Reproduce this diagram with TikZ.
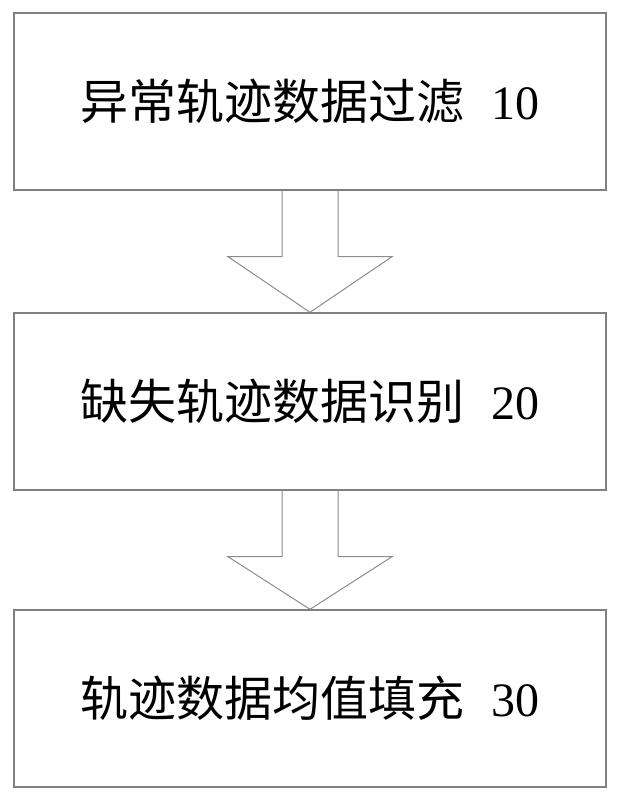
\documentclass[tikz,border=0pt]{standalone}
\usepackage{fontspec}
\setmainfont{Liberation Serif}
\newfontfamily\cjk{Noto Sans CJK SC}
\usetikzlibrary{calc}
\begin{document}
\begin{tikzpicture}[x=1pt,y=1pt,
  stepbox/.style={draw=black!50,line width=1.4pt,minimum width=592pt,minimum height=177pt,inner sep=0pt,font=\fontsize{48}{52}\selectfont},
  blockarrow/.style={draw=black!45,line width=1pt,line join=miter}]
\useasboundingbox (0,0) rectangle (620,800);
\node[stepbox] (b1) at (310,698.5) {\cjk 异常轨迹数据过滤\hspace{0.55em}\rmfamily 10};
\node[stepbox] (b2) at (310,398.5) {\cjk 缺失轨迹数据识别\hspace{0.55em}\rmfamily 20};
\node[stepbox] (b3) at (310,101.5) {\cjk 轨迹数据均值填充\hspace{0.55em}\rmfamily 30};
\foreach \a/\b in {b1/b2,b2/b3}{
  \draw[blockarrow] ($(\a.south)+(-28,0)$) -- ++(0,-66) -- ++(-54,0) -- (\b.north) -- ($(\a.south)+(82,-66)$) -- ++(-54,0) -- ($(\a.south)+(28,0)$);
}
\end{tikzpicture}
\end{document}
